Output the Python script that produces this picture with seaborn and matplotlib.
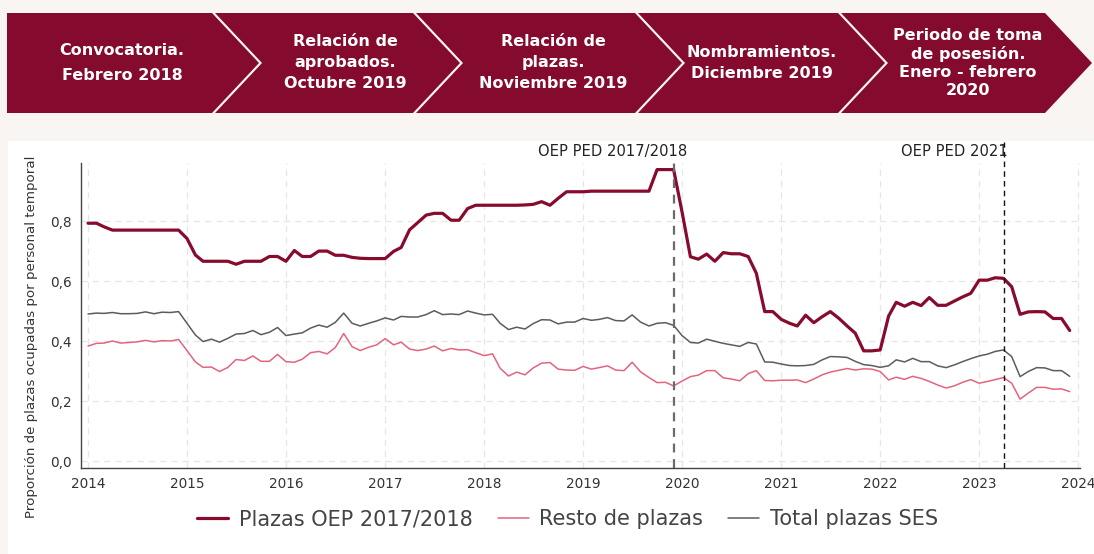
import matplotlib
matplotlib.use("Agg")
import matplotlib.pyplot as plt
import matplotlib.dates as mdates
import matplotlib.ticker as mtick
from matplotlib.patches import Polygon, Rectangle
import pandas as pd
import seaborn as sns

# monthly series, Jan 2014 - Dec 2023
months = pd.date_range("2014-01-01", periods=120, freq="MS")

plazas_oep = [
    0.794, 0.794, 0.782, 0.771, 0.771, 0.771, 0.771, 0.771, 0.771, 0.771, 0.771, 0.771,
    0.743, 0.688, 0.667, 0.667, 0.667, 0.667, 0.657, 0.667, 0.667, 0.667, 0.683, 0.683,
    0.667, 0.703, 0.683, 0.683, 0.701, 0.701, 0.687, 0.687, 0.680, 0.677, 0.676, 0.676,
    0.676, 0.700, 0.713, 0.772, 0.796, 0.821, 0.827, 0.827, 0.804, 0.804, 0.843, 0.854,
    0.854, 0.854, 0.854, 0.854, 0.854, 0.855, 0.857, 0.866, 0.854, 0.877, 0.899, 0.899,
    0.899, 0.901, 0.901, 0.901, 0.901, 0.901, 0.901, 0.901, 0.901, 0.973, 0.973, 0.973,
    0.832, 0.682, 0.674, 0.691, 0.667, 0.696, 0.692, 0.692, 0.683, 0.627, 0.499, 0.499,
    0.473, 0.460, 0.451, 0.487, 0.462, 0.482, 0.499, 0.477, 0.451, 0.427, 0.368, 0.368,
    0.371, 0.484, 0.530, 0.517, 0.530, 0.519, 0.546, 0.520, 0.520, 0.534, 0.548, 0.560,
    0.604, 0.604, 0.612, 0.610, 0.582, 0.490, 0.498, 0.499, 0.498, 0.476, 0.476, 0.436,
]
resto_plazas = [
    0.384, 0.393, 0.394, 0.401, 0.394, 0.396, 0.398, 0.403, 0.398, 0.402, 0.401, 0.406,
    0.369, 0.331, 0.313, 0.314, 0.299, 0.313, 0.339, 0.336, 0.351, 0.333, 0.333, 0.356,
    0.332, 0.330, 0.340, 0.362, 0.366, 0.358, 0.379, 0.426, 0.382, 0.369, 0.380, 0.388,
    0.409, 0.388, 0.397, 0.374, 0.369, 0.374, 0.384, 0.368, 0.376, 0.371, 0.372, 0.362,
    0.352, 0.358, 0.310, 0.284, 0.297, 0.288, 0.311, 0.327, 0.329, 0.307, 0.304, 0.303,
    0.316, 0.307, 0.312, 0.318, 0.304, 0.302, 0.330, 0.298, 0.279, 0.262, 0.263, 0.251,
    0.267, 0.282, 0.287, 0.302, 0.302, 0.278, 0.274, 0.268, 0.292, 0.302, 0.269, 0.268,
    0.270, 0.270, 0.271, 0.262, 0.274, 0.288, 0.297, 0.303, 0.309, 0.304, 0.308, 0.307,
    0.299, 0.271, 0.280, 0.273, 0.283, 0.276, 0.266, 0.254, 0.244, 0.251, 0.263, 0.272,
    0.260, 0.266, 0.272, 0.279, 0.260, 0.207, 0.227, 0.246, 0.246, 0.240, 0.241, 0.232,
]
total_ses = [
    0.491, 0.494, 0.493, 0.496, 0.492, 0.492, 0.493, 0.498, 0.492, 0.497, 0.496, 0.499,
    0.460, 0.421, 0.399, 0.407, 0.397, 0.410, 0.424, 0.426, 0.436, 0.422, 0.430, 0.446,
    0.419, 0.424, 0.428, 0.444, 0.454, 0.447, 0.463, 0.494, 0.460, 0.451, 0.460, 0.468,
    0.478, 0.471, 0.483, 0.481, 0.481, 0.489, 0.502, 0.489, 0.491, 0.489, 0.501, 0.494,
    0.488, 0.490, 0.460, 0.439, 0.447, 0.441, 0.459, 0.472, 0.471, 0.458, 0.464, 0.464,
    0.476, 0.470, 0.473, 0.479, 0.469, 0.468, 0.488, 0.464, 0.451, 0.460, 0.462, 0.453,
    0.419, 0.396, 0.394, 0.407, 0.400, 0.393, 0.388, 0.383, 0.396, 0.391, 0.331, 0.330,
    0.324, 0.319, 0.318, 0.319, 0.323, 0.338, 0.349, 0.348, 0.346, 0.333, 0.322, 0.319,
    0.313, 0.318, 0.338, 0.331, 0.343, 0.332, 0.332, 0.318, 0.312, 0.321, 0.332, 0.342,
    0.351, 0.357, 0.366, 0.371, 0.349, 0.282, 0.299, 0.312, 0.311, 0.302, 0.302, 0.283,
]

series_names = ["Plazas OEP 2017/2018", "Resto de plazas", "Total plazas SES"]
series_colors = ["#870b2d", "#e3647f", "#5c5c5c"]
series_widths = [2.3, 1.1, 1.1]

events = ["2019-12-01", "2023-04-01"]
event_labels = ["OEP PED 2017/2018", "OEP PED 2021"]

banner_texts = [
    "Convocatoria.\nFebrero 2018",
    "Relación de\naprobados.\nOctubre 2019",
    "Relación de\nplazas.\nNoviembre 2019",
    "Nombramientos.\nDiciembre 2019",
    "Periodo de toma\nde posesión.\nEnero - febrero\n2020",
]

df = pd.DataFrame({
    "fecha": list(months) * 3,
    "valor": plazas_oep + resto_plazas + total_ses,
    "serie": [s for s in series_names for _ in months],
})

sns.set_style("white")
plt.rcParams["font.family"] = ["DejaVu Sans"]

W, H = 1094, 554
fig = plt.figure(figsize=(W / 100, H / 100), dpi=100, facecolor="#f8f5f3")

# white panel behind the chart
fig.patches.append(Rectangle((8 / W, 0), 1 - 8 / W, 1 - 141 / H, transform=fig.transFigure,
                             facecolor="white", edgecolor="none", zorder=-5))

# chevron banner
bax = fig.add_axes([0, 0, 1, 1])
bax.set_xlim(0, W)
bax.set_ylim(H, 0)
bax.axis("off")
bax.patch.set_alpha(0)
crimson = "#840b2d"
top_y, mid_y, bot_y, depth = 13, 63, 113, 47
right_tops = [212, 413, 635, 838, 1045]
text_x = [122, 345, 553, 762, 968]
spacings = [1.8, 1.5, 1.5, 1.45, 1.25]
prev = None
for k, rt in enumerate(right_tops):
    if prev is None:
        left = [(7, bot_y), (7, top_y)]
    else:
        left = [(prev + 3, bot_y), (prev + depth + 3, mid_y), (prev + 3, top_y)]
    pts = left + [(rt, top_y), (rt + depth, mid_y), (rt, bot_y)]
    bax.add_patch(Polygon(pts, closed=True, facecolor=crimson, edgecolor="none"))
    bax.text(text_x[k], mid_y, banner_texts[k], ha="center", va="center", color="white",
             fontsize=11.5, fontweight="bold", linespacing=spacings[k])
    prev = rt

# line chart
ax = fig.add_axes([81 / W, 1 - 468 / H, (1080 - 81) / W, (468 - 163) / H])
ax.set_facecolor("none")
for name, color, lw in zip(series_names, series_colors, series_widths):
    sns.lineplot(data=df[df["serie"] == name], x="fecha", y="valor", color=color,
                 linewidth=lw, label=name, ax=ax)

ax.set_xlim(pd.Timestamp("2013-12-06"), pd.Timestamp("2024-01-08"))
ax.set_ylim(-0.023, 0.995)
ax.xaxis.set_major_locator(mdates.YearLocator())
ax.xaxis.set_major_formatter(mdates.DateFormatter("%Y"))
ax.yaxis.set_major_locator(mtick.FixedLocator([0.0, 0.2, 0.4, 0.6, 0.8]))
ax.yaxis.set_major_formatter(mtick.FuncFormatter(lambda v, p: f"{v:.1f}".replace(".", ",")))
ax.grid(True, color="#e6e6e6", linestyle=(0, (5, 4)), linewidth=0.9)
ax.set_axisbelow(True)
for side in ["top", "right"]:
    ax.spines[side].set_visible(False)
for side in ["left", "bottom"]:
    ax.spines[side].set_color("#444444")
    ax.spines[side].set_linewidth(1.0)
ax.tick_params(axis="both", length=3, color="#444444", labelsize=9.8, labelcolor="#333333")
ax.set_xlabel("")
ax.set_ylabel("Proporción de plazas ocupadas por personal temporal", fontsize=9.6, color="#333333")
ax.yaxis.set_label_coords(-0.043, 0.43)

# event markers
ax.axvline(pd.Timestamp(events[0]), color="#6b6b6b", linestyle=(0, (4, 3)), linewidth=1.6)
ax.plot([pd.Timestamp(events[1])] * 2, [0, 1.07], transform=ax.get_xaxis_transform(),
        color="#111111", linestyle=(0, (4, 3)), linewidth=1.0, clip_on=False)
ax.text(pd.Timestamp(events[0]) + pd.Timedelta(days=50), 1.012, event_labels[0],
        transform=ax.get_xaxis_transform(), ha="right", va="bottom", fontsize=10.6, color="#222222")
ax.text(pd.Timestamp(events[1]) + pd.Timedelta(days=14), 1.012, event_labels[1],
        transform=ax.get_xaxis_transform(), ha="right", va="bottom", fontsize=10.6, color="#222222")

leg = ax.legend(loc="center", bbox_to_anchor=(0.487, -0.168), ncol=3, frameon=False,
                fontsize=15, handlelength=1.5, columnspacing=1.2, handletextpad=0.5)
for t in leg.get_texts():
    t.set_color("#444444")

fig.savefig("out.png", dpi=100, facecolor=fig.get_facecolor())
